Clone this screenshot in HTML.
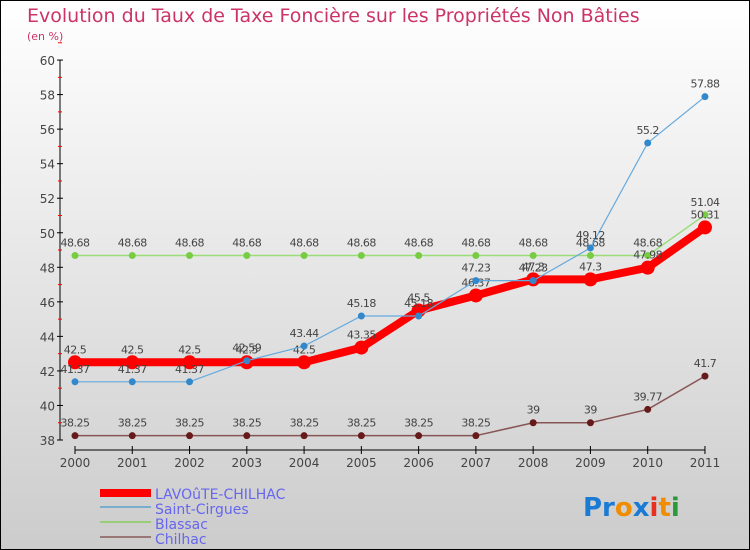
<!DOCTYPE html>
<html><head><meta charset="utf-8"><style>
body{margin:0}
#wrap{position:relative;width:750px;height:550px;box-sizing:border-box;border:1px solid #000;background:linear-gradient(#fff,#ccc);overflow:hidden;font-family:"DejaVu Sans","Liberation Sans",sans-serif}
</style></head><body>
<div id="wrap">
<svg id="svg" width="750" height="550" style="position:absolute;left:-1px;top:-1px">
<text x="27" y="22" font-size="19" fill="#cc3366">Evolution du Taux de Taxe Foncière sur les Propriétés Non Bâties</text>
<text x="27" y="40" font-size="11" fill="#cc3366">(en %)</text>
<g id="axes"></g><g id="series"></g>
<g>
<rect x="100" y="489" width="51" height="8" fill="#f00"/>
<rect x="100" y="506" width="51" height="2" fill="#7aaecc"/>
<rect x="100" y="521" width="51" height="2" fill="#99cc77"/>
<rect x="100" y="536" width="51" height="2" fill="#997777"/>
<text x="155" y="499" font-size="14" fill="#6666ee">LAVOûTE-CHILHAC</text>
<text x="155" y="514" font-size="14" fill="#6666ee">Saint-Cirgues</text>
<text x="155" y="529" font-size="14" fill="#6666ee">Blassac</text>
<text x="155" y="544" font-size="14" fill="#6666ee">Chilhac</text>
</g>
<g font-size="26" font-weight="bold">
<text x="583" y="516"><tspan fill="#1a7ad4">Pr</tspan><tspan fill="#f08c00">o</tspan><tspan fill="#1a7ad4">x</tspan><tspan fill="#e83020">i</tspan><tspan fill="#f08c00">t</tspan><tspan fill="#2a9a3a">i</tspan></text>
</g>
</svg>
</div>
<script>
const years=["2000","2001","2002","2003","2004","2005","2006","2007","2008","2009","2010","2011"];
const yTicks=[38,40,42,44,46,48,50,52,54,56,58,60];
const lavoute=[42.5,42.5,42.5,42.5,42.5,43.35,45.5,46.37,47.3,47.3,47.98,50.31];
const saintCirgues=[41.37,41.37,41.37,42.59,43.44,45.18,45.18,47.23,47.23,49.12,55.2,57.88];
const blassac=[48.68,48.68,48.68,48.68,48.68,48.68,48.68,48.68,48.68,48.68,48.68,51.04];
const chilhac=[38.25,38.25,38.25,38.25,38.25,38.25,38.25,38.25,39,39,39.77,41.7];
const NS="http://www.w3.org/2000/svg";
const X=i=>75+i*57.27, Y=v=>440-(v-38)*17.27;
function mk(t,a,p){const e=document.createElementNS(NS,t);for(const k in a)e.setAttribute(k,a[k]);p.appendChild(e);return e;}
const ax=document.getElementById('axes'), sg=document.getElementById('series');
let e=mk('line',{x1:60,y1:60,x2:60,y2:440,stroke:'#000'},ax);

yTicks.forEach(v=>{mk('line',{x1:57,x2:63,y1:Y(v),y2:Y(v),stroke:'#000'},ax);
 mk('line',{x1:58,x2:62,y1:Y(v+1),y2:Y(v+1),stroke:'#f00'},ax);
 const t=mk('text',{x:55,y:Y(v)+5,'font-size':12,fill:'#444','text-anchor':'end'},ax);t.textContent=v;
 });
e=mk('line',{x1:75,y1:450,x2:X(11),y2:450,stroke:'#000'},ax);

years.forEach((y,i)=>{mk('line',{x1:X(i),x2:X(i),y1:446,y2:454,stroke:'#000'},ax);
 const t=mk('text',{x:X(i),y:467,'font-size':12,fill:'#444','text-anchor':'middle'},ax);t.textContent=y;
 });
function series(d,col,dot,w,r,name){
 const g=mk('g',{},sg);
 mk('polyline',{points:d.map((v,i)=>X(i)+','+Y(v)).join(' '),fill:'none',stroke:col,'stroke-width':w},g);
 d.forEach((v,i)=>{const c=mk('circle',{cx:X(i),cy:Y(v),r:r,fill:dot},g);
  
  const t=mk('text',{x:X(i),y:Y(v)-9,'font-size':11,fill:'#444','text-anchor':'middle','letter-spacing':'-0.5'},g);t.textContent=v;
  });
}
series(chilhac,'#885555','#661a1a',1.5,3.5,'chilhac');
series(blassac,'#99dd77','#77cc44',1.5,3.5,'blassac');
series(lavoute,'#f00','#f00',8,7,'lavoute');
series(saintCirgues,'#66aadd','#3388cc',1.2,3.5,'saint-cirgues');
</script>
</body></html>
